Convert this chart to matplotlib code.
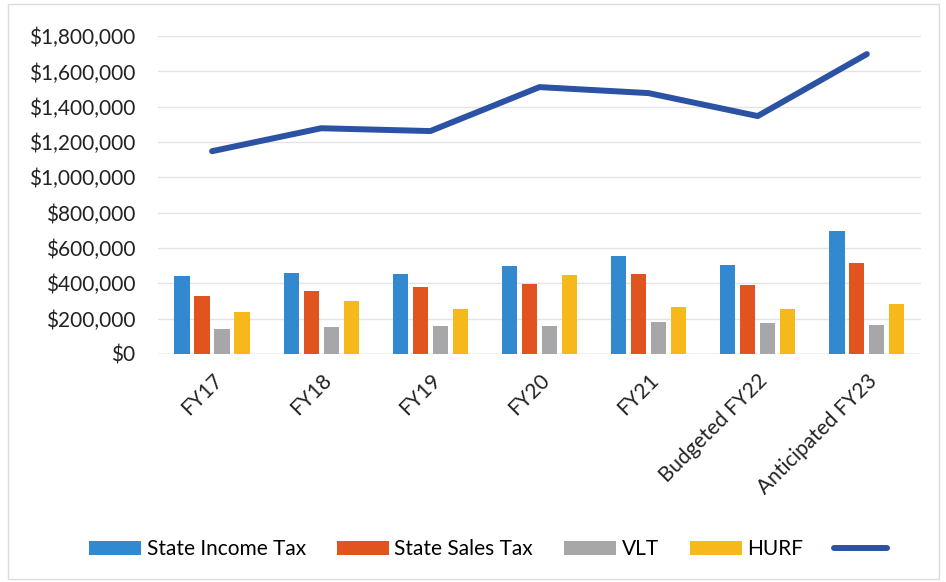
import numpy as np
import matplotlib.pyplot as plt
from matplotlib.ticker import FuncFormatter
from matplotlib.patches import Rectangle

# Data
categories = ['FY17', 'FY18', 'FY19', 'FY20', 'FY21', 'Budgeted FY22', 'Anticipated FY23']
income_tax = [440000, 460000, 455000, 497000, 555000, 503000, 698000]
sales_tax = [330000, 358000, 380000, 398000, 455000, 392000, 513000]
vlt = [140000, 150000, 160000, 157000, 178000, 172000, 166000]
hurf = [235000, 298000, 254000, 444000, 264000, 252000, 280000]
total = [1148000, 1278000, 1262000, 1511000, 1477000, 1347000, 1698000]

series = [
    ('State Income Tax', income_tax, '#3289d0'),
    ('State Sales Tax', sales_tax, '#e2541f'),
    ('VLT', vlt, '#a7a7a9'),
    ('HURF', hurf, '#f6b81a'),
]

plt.rcParams['font.family'] = ['Lato', 'DejaVu Sans']

fig = plt.figure(figsize=(9.46, 5.82), dpi=100)
ax = fig.add_axes([0.1665, 0.392, 0.8075, 0.546])

x = np.arange(len(categories))
width = 0.14
step = 0.183
handles = []
for i, (name, vals, color) in enumerate(series):
    h = ax.bar(x + (i - 1.5) * step, vals, width, color=color, label=name, zorder=2)
    handles.append(h)

# total line
line, = ax.plot(x, total, color='#2b52a3', linewidth=4.3, solid_capstyle='round', zorder=3)
handles.append(line)

ax.set_xlim(-0.5, len(categories) - 0.5)
ax.set_ylim(0, 1800000)
ax.set_yticks(np.arange(0, 1800001, 200000))
ax.yaxis.set_major_formatter(FuncFormatter(lambda v, p: '${:,.0f}'.format(v)))
ax.grid(axis='y', color='#e4e4e4', linewidth=1, zorder=0)
ax.set_xticks(x)
ax.set_xticklabels(categories, rotation=45, ha='right', rotation_mode='anchor')
ax.tick_params(axis='both', length=0, labelsize=15, colors='#222222')
ax.tick_params(axis='x', pad=12)
ax.tick_params(axis='y', pad=16)
for s in ax.spines.values():
    s.set_visible(False)
ax.axhline(0, color='#d9d9d9', linewidth=1, zorder=1)

labels = [s[0] for s in series] + ['']
ax.legend(handles, labels, loc='center', bbox_to_anchor=(0.436, -0.615), ncol=5, frameon=False,
          fontsize=15, handlelength=2.5, handleheight=0.6, columnspacing=1.5,
          handletextpad=0.25)

fig.patches.append(Rectangle((0.008, 0.005), 0.985, 0.988, transform=fig.transFigure,
                             fill=False, edgecolor='#dcdcdc', linewidth=1))

fig.savefig('out.png', dpi=100)
